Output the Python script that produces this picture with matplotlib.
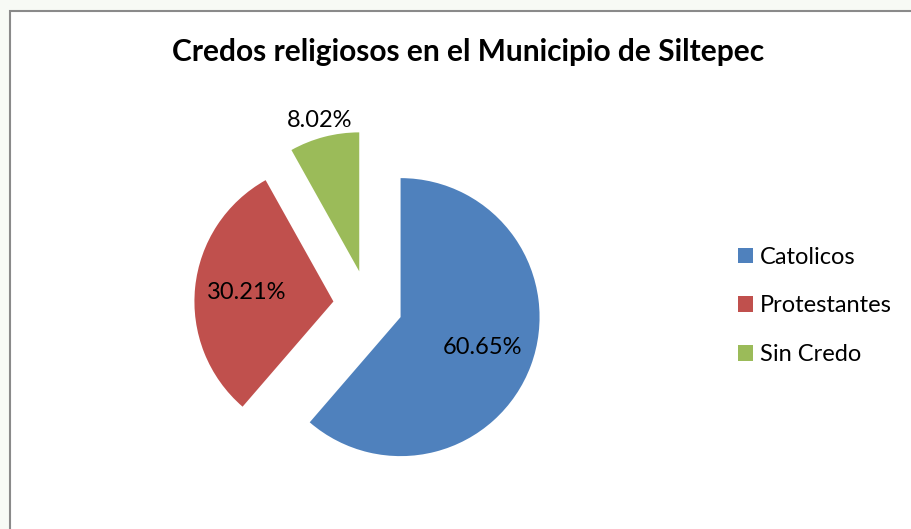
import numpy as np
import matplotlib
matplotlib.use("Agg")
import matplotlib.pyplot as plt
from matplotlib.patches import Rectangle

# -------------------
# Data
# -------------------
categories = ["Catolicos", "Protestantes", "Sin Credo"]
shares = [60.65, 30.21, 8.02]
colors = ["#4F81BD", "#C0504D", "#9BBB59"]
title = "Credos religiosos en el Municipio de Siltepec"

plt.rcParams["font.family"] = ["Lato", "DejaVu Sans"]

W, H = 911, 529
fig = plt.figure(figsize=(W / 100, H / 100), dpi=100, facecolor="#f7faf5")

# white chart area with grey border (cropped on right/bottom)
fig.patches.append(Rectangle((9.5 / W, -0.05), 1.1, 1 - 10.5 / H + 0.05,
                             transform=fig.transFigure, facecolor="white",
                             edgecolor="#8a8a8a", linewidth=1.5, zorder=-5))

# pie axes: centre ~ (368, 305) px, radius ~139 px
r_px = 139.0
half = 1.6 * r_px
cx, cy = 368.0, H - 305.0
ax = fig.add_axes([(cx - half) / W, (cy - half) / H, 2 * half / W, 2 * half / H])

wedges, _, autotexts = ax.pie(
    shares, colors=colors, startangle=90, counterclock=False,
    explode=[0.25] * len(shares), radius=1.0,
    autopct="%.2f%%", pctdistance=0.63,
    textprops=dict(fontsize=17, color="black"),
    wedgeprops=dict(linewidth=0),
)
ax.set_xlim(-1.6, 1.6)
ax.set_ylim(-1.6, 1.6)
ax.axis("off")

# labels show the source values as given
for t, v in zip(autotexts, shares):
    t.set_text(f"{v:.2f}%")

# small slice label sits outside its wedge
w = wedges[2]
mid = np.deg2rad((w.theta1 + w.theta2) / 2)
autotexts[2].set_position((w.center[0] + 1.12 * np.cos(mid), w.center[1] + 1.12 * np.sin(mid)))

fig.text(468 / W, 1 - 52 / H, title, ha="center", va="center",
         fontsize=21.5, fontweight="bold")

fig.legend(wedges, categories, loc="center left", bbox_to_anchor=(738 / W, 1 - 306 / H),
           frameon=False, fontsize=17, handlelength=0.64, handleheight=0.64,
           handletextpad=0.3, labelspacing=1.17, borderpad=0, borderaxespad=0)

fig.savefig("out.png", dpi=100, facecolor=fig.get_facecolor())
